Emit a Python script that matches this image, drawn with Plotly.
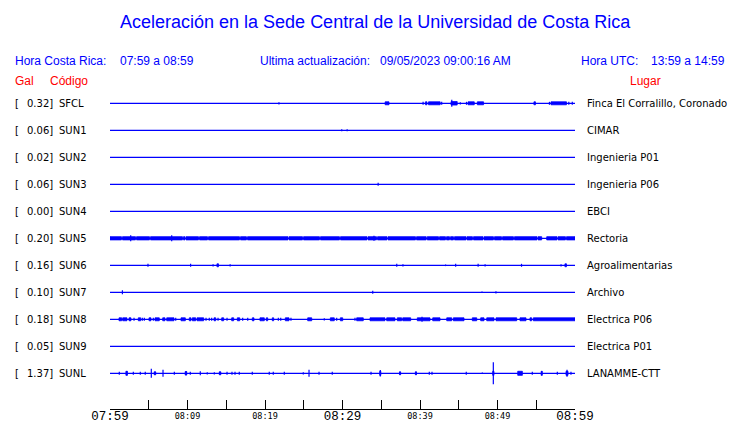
import plotly.graph_objects as go

# ---------------- data ----------------
codes = ["SFCL", "SUN1", "SUN2", "SUN3", "SUN4", "SUN5", "SUN6", "SUN7", "SUN8", "SUN9", "SUNL"]
peak_gal = ["0.32", "0.06", "0.02", "0.06", "0.00", "0.20", "0.16", "0.10", "0.18", "0.05", "1.37"]
places = ["Finca El Corralillo, Coronado", "CIMAR", "Ingenieria P01", "Ingenieria P06", "EBCI",
          "Rectoria", "Agroalimentarias", "Archivo", "Electrica P06", "Electrica P01", "LANAMME-CTT"]

minor_tick_minutes = [0, 5, 10, 15, 20, 25, 30, 35, 40, 45, 50, 55, 60]
minor_tick_labels = ["", "", "08:09", "", "08:19", "", "", "", "08:39", "", "08:49", "", ""]
major_tick_minutes = [0, 30, 60]
major_tick_labels = ["07:59", "08:29", "08:59"]

# spikes: (minute after 07:59, relative amplitude)
spikes_SFCL = [(21.8, 0.08), (40.4, 0.11), (42.8, 0.11), (44.1, 0.26), (45.2, 0.08), (46.0, 0.11),
               (56.7, 0.11), (59.2, 0.11), (59.65, 0.11)]
spikes_SUN1 = [(29.9, 0.07), (30.6, 0.07)]
spikes_SUN2 = []
spikes_SUN3 = [(34.6, 0.11)]
spikes_SUN4 = []
spikes_SUN5 = [(2.67, 0.22), (7.96, 0.22), (34.06, 0.18)]
spikes_SUN6 = [(4.9, 0.11), (10.4, 0.11), (13.3, 0.08), (15.5, 0.08), (37.0, 0.11), (37.8, 0.08),
               (43.3, 0.06), (44.6, 0.11), (47.5, 0.11), (48.4, 0.08), (53.1, 0.11), (58.2, 0.08)]
spikes_SUN7 = [(1.6, 0.15), (33.9, 0.11), (48.0, 0.06), (49.8, 0.08)]
spikes_SUN8 = [(3.10, 0.11), (4.17, 0.11), (4.43, 0.11), (5.59, 0.11), (8.48, 0.11), (12.39, 0.11),
               (12.81, 0.11), (13.12, 0.11), (13.94, 0.11), (15.10, 0.11), (17.12, 0.11), (17.77, 0.11),
               (21.72, 0.11), (22.03, 0.11), (23.35, 0.11), (27.65, 0.08), (29.25, 0.11), (31.61, 0.11),
               (40.26, 0.18)]
spikes_SUN9 = []
spikes_SUNL = [(1.20, 0.11), (2.15, 0.15), (3.01, 0.11), (3.91, 0.11), (4.55, 0.11), (5.33, 0.33),
               (5.81, 0.11), (6.84, 0.26), (8.30, 0.11), (9.81, 0.15), (10.36, 0.11), (11.65, 0.15),
               (12.55, 0.08), (13.46, 0.08), (14.19, 0.11), (15.10, 0.11), (15.74, 0.11), (16.13, 0.11),
               (16.68, 0.11), (18.36, 0.11), (20.55, 0.11), (21.07, 0.11), (22.49, 0.11), (24.94, 0.08),
               (25.68, 0.26), (26.97, 0.11), (28.68, 0.11), (33.68, 0.11), (34.88, 0.24), (37.42, 0.11),
               (39.48, 0.11), (41.20, 0.11), (41.55, 0.11), (45.97, 0.11), (48.04, 0.06), (49.46, 0.81),
               (54.49, 0.11), (55.70, 0.15), (57.72, 0.11), (58.97, 0.26), (59.48, 0.11)]

# dense segments: (start minute, end minute, relative amplitude)
blocks_SFCL = [(35.5, 36.0, 0.11), (40.7, 40.9, 0.11), (41.1, 42.6, 0.11), (44.0, 44.8, 0.13),
               (46.2, 47.0, 0.11), (47.4, 48.2, 0.11), (54.7, 54.9, 0.11), (56.9, 58.9, 0.11)]
blocks_SUN1 = []
blocks_SUN2 = []
blocks_SUN3 = []
blocks_SUN4 = []
blocks_SUN5 = [(0.0, 1.48, 0.12), (1.61, 3.29, 0.12), (3.42, 5.10, 0.12), (5.23, 9.35, 0.12),
               (9.48, 9.68, 0.12), (9.81, 11.42, 0.12), (11.55, 12.58, 0.12), (12.71, 16.71, 0.12),
               (16.84, 17.61, 0.12), (17.74, 22.97, 0.12), (23.10, 24.84, 0.12), (24.97, 27.03, 0.12),
               (27.16, 29.61, 0.12), (29.74, 33.16, 0.12), (33.29, 34.39, 0.12), (34.52, 35.74, 0.12),
               (35.87, 39.42, 0.12), (39.55, 40.80, 0.12), (40.93, 42.39, 0.12), (42.52, 43.29, 0.12),
               (43.42, 43.81, 0.12), (43.94, 44.32, 0.12), (44.45, 45.94, 0.12), (46.06, 46.77, 0.12),
               (46.90, 48.13, 0.12), (48.26, 49.48, 0.12), (49.61, 50.52, 0.12), (50.65, 52.06, 0.12),
               (52.19, 55.10, 0.12), (55.23, 55.70, 0.12), (56.35, 57.68, 0.12), (57.81, 58.77, 0.12),
               (58.90, 60.0, 0.12)]
blocks_SUN6 = [(13.8, 14.0, 0.11), (58.7, 58.9, 0.11)]
blocks_SUN7 = []
blocks_SUN8 = [(1.16, 1.51, 0.11), (1.64, 2.19, 0.11), (2.45, 2.71, 0.11), (3.65, 3.96, 0.11),
               (5.03, 5.29, 0.11), (5.81, 6.36, 0.11), (6.80, 7.10, 0.11), (7.32, 8.26, 0.11),
               (9.16, 9.72, 0.11), (10.23, 10.45, 0.11), (10.62, 11.06, 0.11), (11.23, 12.09, 0.11),
               (13.42, 13.64, 0.11), (14.41, 14.67, 0.11), (15.70, 15.96, 0.11), (16.43, 16.74, 0.11),
               (18.36, 18.58, 0.11), (19.35, 19.91, 0.11), (20.17, 20.35, 0.11), (20.94, 21.12, 0.11),
               (22.62, 23.10, 0.11), (25.51, 26.03, 0.11), (28.43, 28.94, 0.11), (29.72, 30.03, 0.11),
               (31.83, 32.68, 0.11), (33.55, 35.48, 0.11), (35.70, 36.77, 0.11), (37.07, 37.63, 0.11),
               (37.77, 38.80, 0.11), (39.65, 41.29, 0.11), (41.64, 42.58, 0.11), (43.45, 44.09, 0.11),
               (44.30, 45.68, 0.11), (46.75, 47.32, 0.11), (47.83, 48.26, 0.11), (48.61, 49.55, 0.11),
               (49.81, 52.48, 0.11), (52.90, 53.68, 0.11), (54.19, 54.41, 0.11), (54.62, 60.0, 0.11)]
blocks_SUN9 = []
blocks_SUNL = [(2.05, 2.25, 0.15), (5.70, 5.90, 0.11), (9.70, 9.90, 0.13), (14.10, 14.30, 0.11),
               (34.80, 34.95, 0.15), (37.35, 37.50, 0.11), (39.40, 39.55, 0.11), (49.38, 49.55, 0.15),
               (52.61, 53.21, 0.15), (55.63, 55.78, 0.15), (58.84, 59.10, 0.15)]

spikes = [spikes_SFCL, spikes_SUN1, spikes_SUN2, spikes_SUN3, spikes_SUN4, spikes_SUN5,
          spikes_SUN6, spikes_SUN7, spikes_SUN8, spikes_SUN9, spikes_SUNL]
blocks = [blocks_SFCL, blocks_SUN1, blocks_SUN2, blocks_SUN3, blocks_SUN4, blocks_SUN5,
          blocks_SUN6, blocks_SUN7, blocks_SUN8, blocks_SUN9, blocks_SUNL]

# ---------------- figure ----------------
OFF = 8  # page body margin
W, H = 740 - OFF, 423 - OFF
BLUE = "#0000ff"
RED = "#ff0000"
AMP = 0.5  # row units per relative amplitude unit

fig = go.Figure()

bx, by, sx, sy, fx, fy = [], [], [], [], [], []
for i in range(len(codes)):
    base = -i
    bx += [0, 60, None]
    by += [base, base, None]
    for t, a in spikes[i]:
        sx += [t, t, None]
        sy += [base + a * AMP, base - a * AMP, None]
    for t0, t1, a in blocks[i]:
        fx += [t0, t1, t1, t0, t0, None]
        fy += [base - a * AMP, base - a * AMP, base + a * AMP, base + a * AMP, base - a * AMP, None]

fig.add_trace(go.Scatter(x=bx, y=by, mode="lines", line=dict(color=BLUE, width=1.3),
                         hoverinfo="skip", showlegend=False))
fig.add_trace(go.Scatter(x=fx, y=fy, mode="lines", fill="toself", fillcolor=BLUE,
                         line=dict(color=BLUE, width=0.8), hoverinfo="skip", showlegend=False))
fig.add_trace(go.Scatter(x=sx, y=sy, mode="lines", line=dict(color=BLUE, width=1.2),
                         hoverinfo="skip", showlegend=False))
fig.add_trace(go.Scatter(x=[0, 60], y=[0, 0], xaxis="x2", mode="lines",
                         line=dict(width=0), hoverinfo="skip", showlegend=False))

# pixel positions in the page, converted to figure coordinates
row0_px = 103.3 - OFF
row_px = 27.0
axis_px = 409.0 - OFF
y_top = row0_px / row_px
y_bot = -(axis_px - row0_px) / row_px
x0_px, x1_px = 110 - OFF, 575 - OFF

fig.update_layout(
    width=W, height=H,
    margin=dict(l=0, r=0, t=0, b=0),
    paper_bgcolor="white", plot_bgcolor="white",
    xaxis=dict(domain=[x0_px / W, x1_px / W], range=[0, 60], showgrid=False, zeroline=False,
               showline=True, linecolor="black", linewidth=1,
               ticks="inside", ticklen=9, tickwidth=1, tickcolor="black",
               tickmode="array", tickvals=minor_tick_minutes, ticktext=minor_tick_labels,
               tickfont=dict(family="DejaVu Sans Mono", size=8.5, color="black"),
               ticklabelstandoff=-1,
               fixedrange=True, automargin=False),
    xaxis2=dict(overlaying="x", anchor="y", side="bottom", range=[0, 60], showgrid=False,
                zeroline=False, showline=False, ticks="",
                tickmode="array", tickvals=major_tick_minutes, ticktext=major_tick_labels,
                tickfont=dict(family="Liberation Mono", size=12.5, color="black"),
                ticklabelstandoff=-3,
                fixedrange=True, automargin=False),
    yaxis=dict(domain=[(H - axis_px) / H, 1], range=[y_bot, y_top], visible=False,
               fixedrange=True),
    showlegend=False,
)


def px_ann(text, x, y, color="black", size=10, family="DejaVu Sans", xanchor="left"):
    fig.add_annotation(text=text, x=(x - OFF) / W, y=1 - (y - OFF) / H, xref="paper", yref="paper",
                       xanchor=xanchor, yanchor="middle", showarrow=False, borderpad=0,
                       font=dict(color=color, size=size, family=family))


# title and headers (page pixel positions)
px_ann("Aceleración en la Sede Central de la Universidad de Costa Rica", 375.5, 22,
       color=BLUE, size=18, family="Liberation Sans", xanchor="center")
hdr_y = 60.7
px_ann("Hora Costa Rica:", 14, hdr_y, BLUE, 12, "Liberation Sans")
px_ann("07:59 a 08:59", 119, hdr_y, BLUE, 12, "Liberation Sans")
px_ann("Ultima actualización:", 259, hdr_y, BLUE, 12, "Liberation Sans")
px_ann("09/05/2023 09:00:16 AM", 379, hdr_y, BLUE, 12, "Liberation Sans")
px_ann("Hora UTC:", 579.7, hdr_y, BLUE, 12, "Liberation Sans")
px_ann("13:59 a 14:59", 649.7, hdr_y, BLUE, 12, "Liberation Sans")
lab_y = 80.7
px_ann("Gal", 14, lab_y, RED, 12, "Liberation Sans")
px_ann("Código", 49, lab_y, RED, 12, "Liberation Sans")
px_ann("Lugar", 629, lab_y, RED, 12, "Liberation Sans")

# station labels
for i in range(len(codes)):
    yy = 103.3 + row_px * i
    px_ann("[", 14, yy)
    px_ann(peak_gal[i] + "]", 54, yy, xanchor="right")
    px_ann(codes[i], 57.7, yy)
    px_ann(places[i], 586.3, yy)

fig.write_html("out.html")
